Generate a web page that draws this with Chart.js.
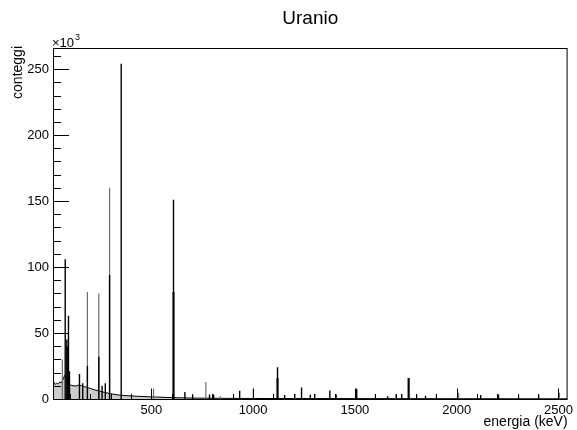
<!DOCTYPE html>
<html>
<head>
<meta charset="utf-8">
<script src="https://cdn.jsdelivr.net/npm/chart.js@4"></script>
<style>
  html, body { margin: 0; padding: 0; background: #fff; }
  #wrap { width: 577px; height: 430px; }
</style>
</head>
<body>
<div id="wrap"><canvas id="spectrum"></canvas></div>
<script>
const chartTitle = "Uranio";
const xTitle = "energia (keV)";
const yTitle = "conteggi";

// continuum (background), keV -> counts
const contEnergy = [17, 22, 28, 34, 40, 46, 52, 58, 64, 70, 76, 82, 88, 94, 100, 110, 120, 130, 140, 150, 160, 170, 180, 200, 220, 245, 270, 300, 340, 370, 440, 520, 609, 700, 800, 900, 1000, 1200, 1500, 1800, 2100, 2545];
const contCounts = [11500, 12500, 11000, 12000, 11500, 12000, 13000, 12000, 14000, 16500, 18000, 16500, 14500, 12000, 10800, 10200, 10000, 9800, 10500, 10400, 9800, 9300, 9000, 8000, 7000, 6000, 5000, 4000, 3000, 2600, 2000, 1500, 1000, 700, 550, 450, 400, 350, 300, 250, 200, 150];

// photopeaks drawn as dark lines
const peakEnergy = [77, 85, 87, 93, 98, 147, 163, 186, 242, 258, 274, 295, 352, 609, 665, 703, 786, 806, 934, 1120, 1155, 1238, 1281, 1377, 1408, 1509, 1661, 1730, 1764, 1847, 2118];
const peakCounts = [106000, 45000, 40000, 63000, 21000, 19000, 12000, 25000, 32000, 10000, 12000, 94000, 254000, 151000, 5300, 3000, 3500, 3500, 6300, 24000, 3000, 8800, 3300, 6500, 3500, 7800, 2000, 3800, 15900, 2500, 3000];

// narrow single-bin spikes that come out grey
const spikeEnergy = [63, 186, 242, 295, 511, 768, 839, 904, 1001, 1207, 1305, 1600, 1700, 1805, 1900, 2010, 2305, 2405, 2505];
const spikeCounts = [30000, 81000, 80000, 160000, 7800, 12900, 2000, 3800, 7800, 3800, 3800, 3000, 3500, 3000, 3500, 4800, 3000, 3000, 4800];

// broader peak bases
const wideEnergy = [609, 1120, 1764, 2204];
const wideCounts = [81000, 16000, 15900, 3500];

const xMin = 17, xMax = 2545;
const yMin = 0, yMax = 266000;
const xTickValues = [500, 1000, 1500, 2000, 2500];
const yTickValues = [0, 50000, 100000, 150000, 200000, 250000];
const yTickLabels = ["0", "50", "100", "150", "200", "250"];

const FONT = "'Liberation Sans', Arial, Helvetica, sans-serif";

function pairs(xs, ys) {
    return xs.map((x, i) => ({ x: x, y: ys[i] }));
}

// ROOT-style frame, inward ticks, titles and exponent
const rootDecor = {
    id: "rootDecor",
    afterDraw(chart) {
        const ctx = chart.ctx;
        const a = chart.chartArea;
        const xs = chart.scales.x, ys = chart.scales.y;
        ctx.save();
        ctx.strokeStyle = "#000";
        ctx.lineWidth = 1;
        ctx.strokeRect(a.left + 0.5, a.top + 0.5, a.right - a.left - 1, a.bottom - a.top);

        ctx.beginPath();
        // x ticks: minor every 100, major every 500
        for (let v = 100; v <= xMax; v += 100) {
            const px = Math.round(xs.getPixelForValue(v)) + 0.5;
            const len = v % 500 === 0 ? 10.5 : 5;
            ctx.moveTo(px, a.bottom);
            ctx.lineTo(px, a.bottom - len);
        }
        // y ticks: minor every 10k, major every 50k
        for (let v = 10000; v <= yMax; v += 10000) {
            const py = Math.round(ys.getPixelForValue(v)) + 0.5;
            const len = v % 50000 === 0 ? 16 : 8;
            ctx.moveTo(a.left, py);
            ctx.lineTo(a.left + len, py);
        }
        ctx.stroke();

        ctx.fillStyle = "#000";
        ctx.font = "19px " + FONT;
        ctx.textAlign = "center";
        ctx.textBaseline = "middle";
        ctx.fillText(chartTitle, (a.left + a.right) / 2, 19);

        ctx.font = "14px " + FONT;
        ctx.textAlign = "right";
        ctx.textBaseline = "alphabetic";
        ctx.fillText(xTitle, a.right, 426);

        ctx.save();
        ctx.translate(22, a.top - 2);
        ctx.rotate(-Math.PI / 2);
        ctx.textAlign = "right";
        ctx.fillText(yTitle, 0, 0);
        ctx.restore();

        ctx.font = "13px " + FONT;
        ctx.textAlign = "left";
        ctx.fillText("\u00d710", a.left - 1, a.top - 1);
        const w = ctx.measureText("\u00d710").width;
        ctx.font = "9px " + FONT;
        ctx.fillText("3", a.left - 1 + w + 1, a.top - 8);
        ctx.restore();
    }
};

const ctx = document.getElementById("spectrum").getContext("2d");
new Chart(ctx, {
    type: "bar",
    data: {
        datasets: [
            {
                label: "picchi",
                data: pairs(peakEnergy, peakCounts),
                backgroundColor: "#000",
                barThickness: 1.4,
                inflateAmount: 0,
                grouped: false,
                order: 0
            },
            {
                label: "larghi",
                data: pairs(wideEnergy, wideCounts),
                backgroundColor: "#000",
                barThickness: 2,
                inflateAmount: 0,
                grouped: false,
                order: 0
            },
            {
                label: "spike",
                data: pairs(spikeEnergy, spikeCounts),
                backgroundColor: "#6e6e6e",
                barThickness: 1.2,
                inflateAmount: 0,
                grouped: false,
                order: 1
            },
            {
                type: "line",
                label: "fondo",
                data: pairs(contEnergy, contCounts),
                borderColor: "#000",
                borderWidth: 1,
                backgroundColor: "#cccccc",
                fill: "origin",
                pointRadius: 0,
                tension: 0,
                order: 2
            }
        ]
    },
    options: {
        responsive: true,
        maintainAspectRatio: false,
        animation: false,
        layout: { padding: { top: 48, right: 6, left: 0, bottom: 0 } },
        plugins: {
            legend: { display: false },
            tooltip: { enabled: false },
            title: { display: false }
        },
        scales: {
            x: {
                type: "linear",
                min: xMin,
                max: xMax,
                offset: false,
                grid: { display: false, drawTicks: false },
                border: { display: false },
                afterBuildTicks: s => { s.ticks = xTickValues.map(v => ({ value: v })); },
                afterFit: s => { s.height = 31; },
                ticks: {
                    color: "#000",
                    font: { family: FONT, size: 13 },
                    padding: 4,
                    maxRotation: 0,
                    autoSkip: false,
                    callback: v => String(v)
                }
            },
            y: {
                min: yMin,
                max: yMax,
                grid: { display: false, drawTicks: false },
                border: { display: false },
                afterBuildTicks: s => { s.ticks = yTickValues.map(v => ({ value: v })); },
                afterFit: s => { s.width = 53; },
                ticks: {
                    color: "#000",
                    font: { family: FONT, size: 13 },
                    padding: 4,
                    autoSkip: false,
                    callback: v => yTickLabels[yTickValues.indexOf(v)]
                }
            }
        }
    },
    plugins: [rootDecor]
});
</script>
</body>
</html>
